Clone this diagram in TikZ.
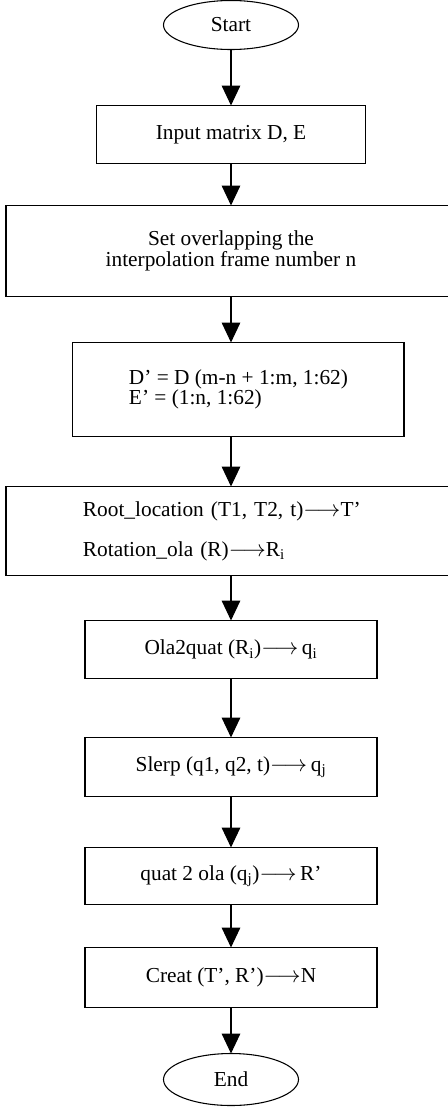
\documentclass[tikz,border=0pt]{standalone}
\usepackage{fontspec}
\setmainfont{Liberation Serif}
\usetikzlibrary{shapes.geometric, arrows.meta, positioning}

\begin{document}
\begin{tikzpicture}[auto, thick, >={Triangle[width=14pt,length=15pt]}, font=\fontsize{16}{15.5}\selectfont]
  \useasboundingbox (-173.25pt,18.75pt) rectangle (162pt,-811.5pt);
  % Define styles
  \tikzstyle{startstop} = [ellipse, draw=black, inner sep=0pt, outer sep=0pt, minimum width=101.25pt, minimum height=36.75pt]
  \tikzstyle{process} = [rectangle, draw=black, outer sep=0pt, minimum width=219pt, minimum height=43.5pt, text centered]
  \tikzstyle{line} = [draw, ->]

  % Place nodes
  \node [startstop] (start) {Start};
  \node [process, minimum width=201.75pt, below=42pt of start] (input) {Input matrix D, E};
  \node [process, minimum width=337.5pt, minimum height=68.25pt, align=center, below=31.5pt of input] (overlap) {Set overlapping the\\interpolation frame number n};
  \node [process, minimum width=248.25pt, minimum height=70.5pt, align=left, below=34.5pt of overlap, xshift=5.6pt] (trim) {D’ = D (m-n + 1:m, 1:62)\\E’ = (1:n, 1:62)};
  \node [process, text width=222pt, inner xsep=57.75pt, minimum height=66.75pt, align=left, below=37.5pt of trim, xshift=-5.6pt] (rootrot) {Root\_location (T1, T2, t)$\longrightarrow$T’\\[14.5pt]Rotation\_ola (R)$\longrightarrow$R\textsubscript{i}};
  \node [process, below=33.75pt of rootrot] (ola2quat) {Ola2quat (R\textsubscript{i})$\longrightarrow$\,q\textsubscript{i}};
  \node [process, minimum height=44.25pt, below=44.25pt of ola2quat] (slerp) {Slerp (q1, q2, t)$\longrightarrow$\,q\textsubscript{j}};
  \node [process, minimum height=42.75pt, below=38.25pt of slerp] (quat2ola) {quat 2 ola (q\textsubscript{j})$\longrightarrow$\,R’};
  \node [process, minimum height=45pt, below=32.25pt of quat2ola] (creat) {Creat (T’, R’)$\longrightarrow$N};
  \node [startstop, minimum height=39pt, below=34.5pt of creat] (finish) {End};

  % Draw edges
  \path [line] (start) -- (input);
  \path [line] (input) -- (overlap);
  \path [line] (overlap) -- (overlap |- trim.north);
  \path [line] (trim.south -| rootrot) -- (rootrot);
  \path [line] (rootrot) -- (ola2quat);
  \path [line] (ola2quat) -- (slerp);
  \path [line] (slerp) -- (quat2ola);
  \path [line] (quat2ola) -- (creat);
  \path [line] (creat) -- (finish);
\end{tikzpicture}
\end{document}
